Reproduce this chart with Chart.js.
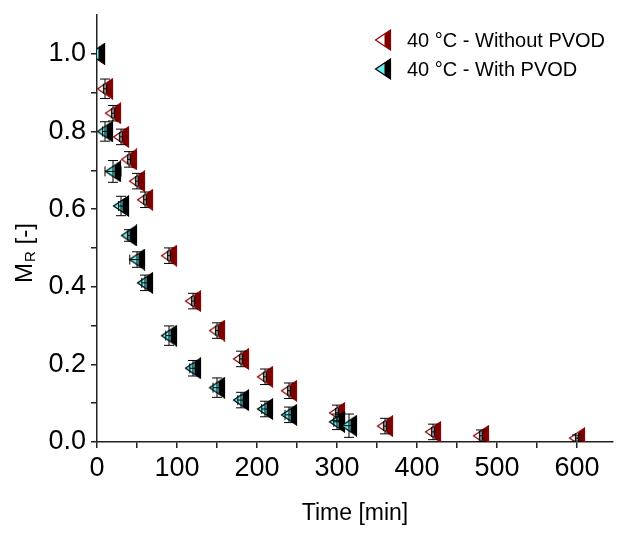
<!DOCTYPE html>
<html>
<head>
<meta charset="utf-8">
<script src="https://cdn.jsdelivr.net/npm/chart.js@4.4.0/dist/chart.umd.min.js"></script>
<style>
  html, body { margin: 0; padding: 0; background: #fff; }
  #wrap { width: 618px; height: 536px; }
</style>
</head>
<body>
<div id="wrap"><canvas id="chart"></canvas></div>
<script>
// data
const timeNoPvod = [0, 10, 20, 30, 40, 50, 60, 90, 120, 150, 180, 210, 240, 300, 360, 420, 480, 600]
const mrNoPvod = [1.0, 0.91, 0.847, 0.786, 0.728, 0.672, 0.624, 0.48, 0.363, 0.287, 0.214, 0.168, 0.132, 0.075, 0.041, 0.026, 0.016, 0.01]
const mrErrNoPvod = [0, 0.025, 0.02, 0.02, 0.02, 0.02, 0.02, 0.02, 0.02, 0.02, 0.02, 0.02, 0.02, 0.02, 0.02, 0.02, 0.015, 0.008]
const timeErrNoPvod = [0, 2, 2, 2, 2, 2, 2, 2, 2, 2, 2, 2, 2, 2, 2, 2, 2, 2]

const timePvod = [0, 10, 20, 30, 40, 50, 60, 90, 120, 150, 180, 210, 240, 300, 315]
const mrPvod = [1.0, 0.80, 0.697, 0.608, 0.532, 0.47, 0.41, 0.274, 0.19, 0.14, 0.108, 0.085, 0.07, 0.052, 0.042]
const mrErrPvod = [0, 0.025, 0.028, 0.025, 0.015, 0.02, 0.02, 0.025, 0.02, 0.025, 0.02, 0.02, 0.02, 0.02, 0.03]
const timeErrPvod = [0, 3, 10, 3, 2, 9, 4, 4, 4, 5, 4, 4, 5, 4, 8]

const xTicks = [0, 50, 100, 150, 200, 250, 300, 350, 400, 450, 500, 550, 600]
const yTicks = [0, 0.1, 0.2, 0.3, 0.4, 0.5, 0.6, 0.7, 0.8, 0.9, 1.0]

const FONT = '"Liberation Sans", Arial, sans-serif'

// half filled left-pointing triangle, like the Origin symbol
function halfTriangle (light, dark, edge) {
  const c = document.createElement('canvas')
  c.width = 18
  c.height = 22
  const g = c.getContext('2d')
  const path = () => {
    g.beginPath()
    g.moveTo(1.5, 11)
    g.lineTo(16.5, 1)
    g.lineTo(16.5, 21)
    g.closePath()
  }
  path()
  g.fillStyle = light
  g.fill()
  g.save()
  path()
  g.clip()
  g.fillStyle = dark
  g.fillRect(10.5, 0, 8, 22)
  g.restore()
  path()
  g.strokeStyle = edge
  g.lineWidth = 1.2
  g.stroke()
  return c
}

const redMarker = halfTriangle('#ffffff', '#800000', '#8b0000')
const cyanMarker = halfTriangle('#66f0f0', '#000000', '#000000')

const toPoints = (xs, ys) => xs.map((x, i) => ({ x: x, y: ys[i] }))

// x and y error bars drawn through the scales
const errorBars = {
  id: 'errorBars',
  afterDatasetsDraw (chart) {
    const ctx = chart.ctx
    const xs = chart.scales.x
    const ys = chart.scales.y
    const a = chart.chartArea
    ctx.save()
    ctx.beginPath()
    ctx.rect(a.left, a.top, a.right - a.left, a.bottom - a.top)
    ctx.clip()
    ctx.strokeStyle = '#000'
    ctx.lineWidth = 1
    chart.data.datasets.forEach(ds => {
      ds.data.forEach((p, j) => {
        const px = xs.getPixelForValue(p.x)
        const py = ys.getPixelForValue(p.y)
        const ey = ds.errY[j]
        const ex = ds.errX[j]
        ctx.beginPath()
        if (ey > 0) {
          const y1 = ys.getPixelForValue(p.y - ey)
          const y2 = ys.getPixelForValue(p.y + ey)
          ctx.moveTo(px, y1); ctx.lineTo(px, y2)
          ctx.moveTo(px - 5, y1); ctx.lineTo(px + 5, y1)
          ctx.moveTo(px - 5, y2); ctx.lineTo(px + 5, y2)
        }
        if (ex > 0) {
          const x1 = xs.getPixelForValue(p.x - ex)
          const x2 = xs.getPixelForValue(p.x + ex)
          ctx.moveTo(x1, py); ctx.lineTo(x2, py)
          ctx.moveTo(x1, py - 5); ctx.lineTo(x1, py + 5)
          ctx.moveTo(x2, py - 5); ctx.lineTo(x2, py + 5)
        }
        ctx.stroke()
      })
    })
    ctx.restore()
  }
}

// legend inside the plot and the y title with its subscript
const extras = {
  id: 'extras',
  afterDraw (chart) {
    const ctx = chart.ctx
    ctx.save()
    ctx.fillStyle = '#000'
    ctx.textBaseline = 'middle'
    ctx.font = '20px ' + FONT
    chart.data.datasets.forEach((ds, i) => {
      const cy = 40 + i * 29
      ctx.drawImage(ds.pointStyle, 383 - 9, cy - 11)
      ctx.fillText(ds.label, 407, cy + 1)
    })
    ctx.translate(32, 283)
    ctx.rotate(-Math.PI / 2)
    ctx.textBaseline = 'alphabetic'
    ctx.font = '24px ' + FONT
    ctx.fillText('M', 0, 0)
    let w = ctx.measureText('M').width
    ctx.font = '15px ' + FONT
    ctx.fillText('R', w + 1, 3)
    w += 1 + ctx.measureText('R').width
    ctx.font = '24px ' + FONT
    ctx.fillText(' [-]', w, 0)
    ctx.restore()
  }
}

new Chart(document.getElementById('chart'), {
  type: 'scatter',
  data: {
    datasets: [
      {
        label: '40 °C - Without PVOD',
        data: toPoints(timeNoPvod, mrNoPvod),
        errX: timeErrNoPvod,
        errY: mrErrNoPvod,
        pointStyle: redMarker,
        order: 2,
        clip: 0
      },
      {
        label: '40 °C - With PVOD',
        data: toPoints(timePvod, mrPvod),
        errX: timeErrPvod,
        errY: mrErrPvod,
        pointStyle: cyanMarker,
        order: 1,
        clip: 0
      }
    ]
  },
  options: {
    responsive: true,
    maintainAspectRatio: false,
    animation: false,
    layout: { padding: { top: 15, right: 0, left: 0, bottom: 0 } },
    plugins: {
      legend: { display: false },
      tooltip: { enabled: false }
    },
    scales: {
      x: {
        type: 'linear',
        min: 0,
        max: 645,
        afterBuildTicks: s => { s.ticks = xTicks.map(v => ({ value: v })) },
        afterFit: s => { s.height = 94; s.paddingRight = 0 },
        grid: { drawOnChartArea: false, tickLength: 6, color: '#222', lineWidth: 1.5 },
        border: { color: '#222', width: 1.5 },
        ticks: {
          callback: v => (v % 100 === 0 ? String(v) : ''),
          font: { size: 27, family: FONT },
          color: '#000',
          padding: 4,
          maxRotation: 0,
          autoSkip: false
        },
        title: {
          display: true,
          text: 'Time [min]',
          font: { size: 23, family: FONT },
          color: '#000',
          padding: { top: 0, bottom: 9 }
        }
      },
      y: {
        type: 'linear',
        min: 0,
        max: 1.1,
        afterBuildTicks: s => { s.ticks = yTicks.map(v => ({ value: v })) },
        afterFit: s => { s.width = 97; s.paddingTop = 0; s.paddingBottom = 0 },
        grid: { drawOnChartArea: false, tickLength: 6, color: '#222', lineWidth: 1.5 },
        border: { color: '#222', width: 1.5 },
        ticks: {
          callback: (v, i) => (i % 2 === 0 ? v.toFixed(1) : ''),
          font: { size: 27, family: FONT },
          color: '#000',
          padding: 5,
          autoSkip: false
        }
      }
    }
  },
  plugins: [errorBars, extras]
})
</script>
</body>
</html>
